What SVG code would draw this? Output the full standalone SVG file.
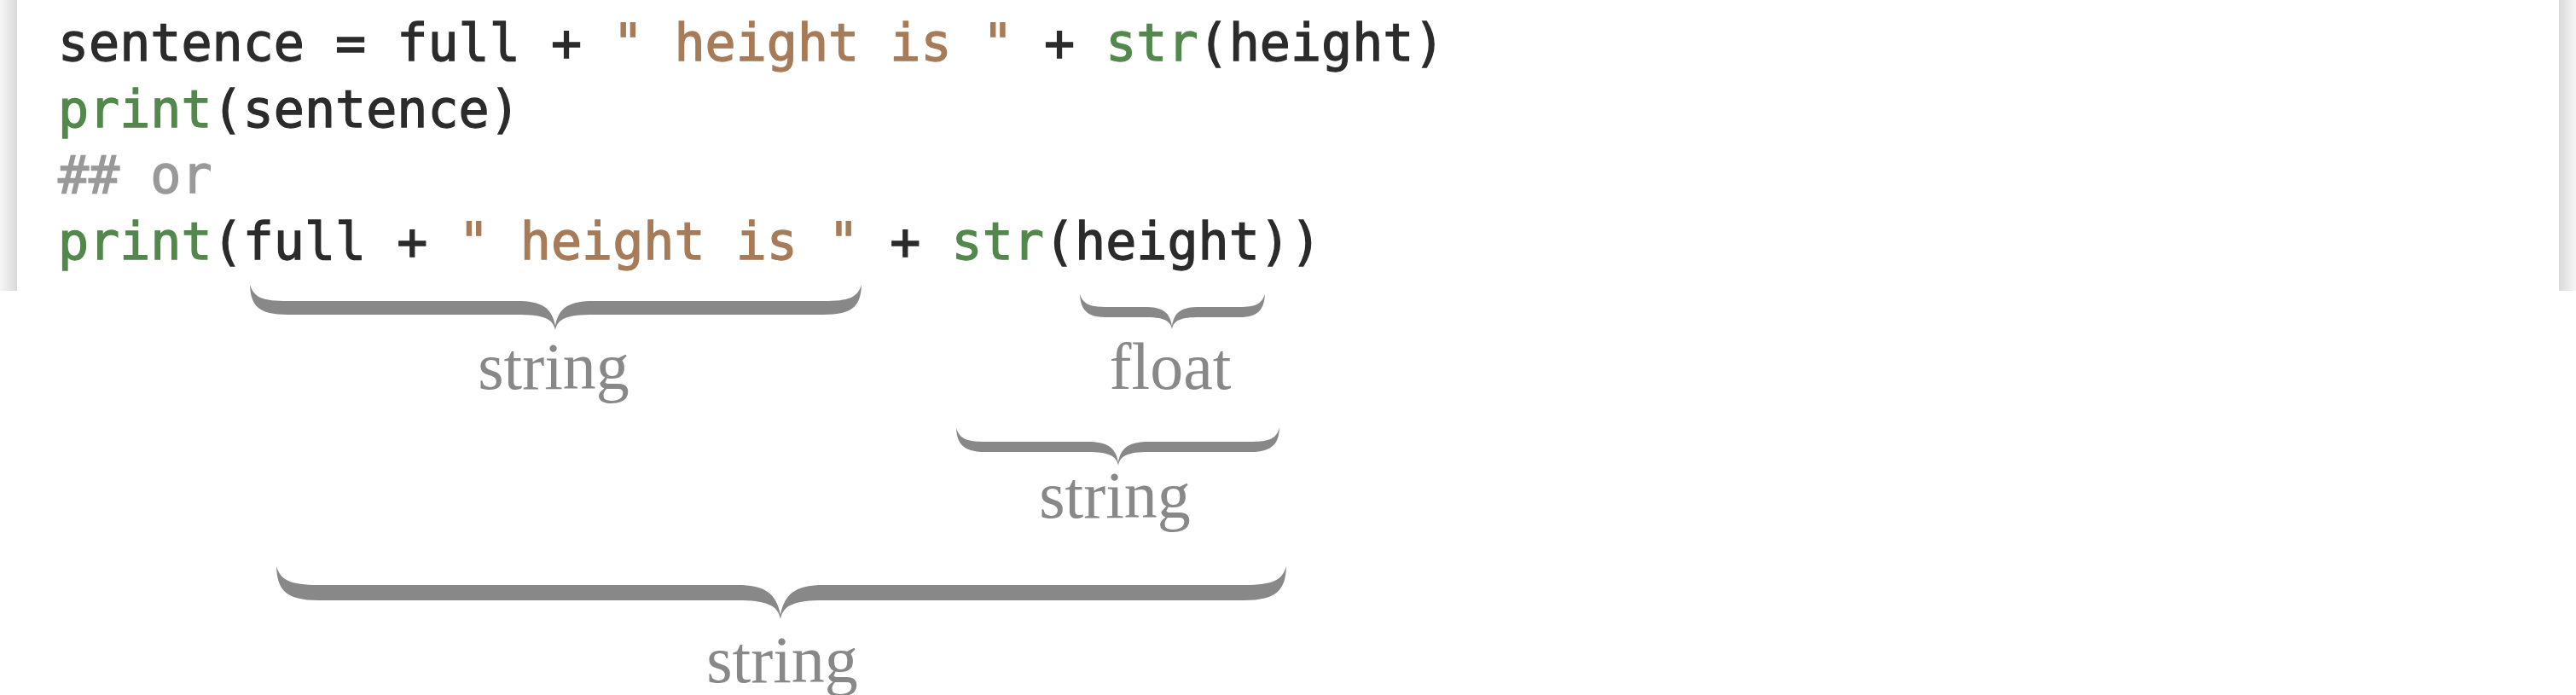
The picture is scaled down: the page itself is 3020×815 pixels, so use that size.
<svg xmlns="http://www.w3.org/2000/svg" width="3020" height="815" viewBox="0 0 3020 815">
<defs>
<linearGradient id="shL" x1="0" y1="0" x2="1" y2="0">
<stop offset="0" stop-color="#f6f6f6"/><stop offset="1" stop-color="#d9d9d9"/>
</linearGradient>
<linearGradient id="shR" x1="0" y1="0" x2="1" y2="0">
<stop offset="0" stop-color="#d9d9d9"/><stop offset="1" stop-color="#f6f6f6"/>
</linearGradient>
</defs>
<style>
.code{font-family:"DejaVu Sans Mono","Liberation Mono",monospace;font-size:60px;stroke-width:1.3px}
.d{fill:#2b2b2b;stroke:#2b2b2b}.s{fill:#a77b58;stroke:#a77b58}.f{fill:#52884c;stroke:#52884c}.c{fill:#999999;stroke:#999999}
.brace{fill:#888888}
.lbl{font-family:"Liberation Serif","DejaVu Serif",serif;font-size:78px;fill:#888888;text-anchor:middle}
</style>
<rect x="0" y="0" width="3020" height="815" fill="#ffffff"/>
<g id="codebox">
<rect x="0" y="0" width="20" height="341" fill="url(#shL)"/>
<rect x="3000" y="0" width="20" height="341" fill="url(#shR)"/>
</g>
<g id="code" class="code" xml:space="preserve">
<text id="line1" x="68" y="71"><tspan class="d">sentence = full + </tspan><tspan class="s">" height is "</tspan><tspan class="d"> + </tspan><tspan class="f">str</tspan><tspan class="d">(height)</tspan></text>
<text id="line2" x="68" y="148.7"><tspan class="f">print</tspan><tspan class="d">(sentence)</tspan></text>
<text id="line3" x="68" y="226.3"><tspan class="c">## or</tspan></text>
<text id="line4" x="68" y="304"><tspan class="f">print</tspan><tspan class="d">(full + </tspan><tspan class="s">" height is "</tspan><tspan class="d"> + </tspan><tspan class="f">str</tspan><tspan class="d">(height))</tspan></text>
</g>
<g id="connectors">
<path id="brace-full" class="brace" d="M 293,334 C 294,358 302,369 338,369 L 606,369 C 636,369 648,373 651,387 C 654,373 666,369 696,369 L 965,369 C 1001,369 1009,358 1010,334 C 1005,349 996,353 965,353 L 696,353 C 668,353 655,360 651,382 C 647,360 634,353 606,353 L 338,353 C 307,353 298,349 293,334 Z"/>
<path id="brace-float" class="brace" d="M 1266,345 C 1267,362 1273,372 1296,372 L 1342,372 C 1363,372 1372,375 1374,386 C 1376,375 1385,372 1406,372 L 1453,372 C 1476,372 1482,362 1483,345 C 1479,356 1473,360 1453,360 L 1406,360 C 1386,360 1377,365 1374,382 C 1371,365 1362,360 1342,360 L 1296,360 C 1276,360 1270,356 1266,345 Z"/>
<path id="brace-str" class="brace" d="M 1121,502 C 1122,520 1129,530 1155,530 L 1275,530 C 1299,530 1309,534 1311,546 C 1313,534 1323,530 1347,530 L 1466,530 C 1492,530 1499,520 1500,502 C 1496,514 1489,518 1466,518 L 1347,518 C 1325,518 1314,524 1311,542 C 1308,524 1297,518 1275,518 L 1155,518 C 1132,518 1125,514 1121,502 Z"/>
<path id="brace-all" class="brace" d="M 324,664 C 325,691 334,704 374,704 L 865,704 C 897,704 912,709 915,726 C 918,709 933,704 965,704 L 1458,704 C 1498,704 1507,691 1508,664 C 1503,680 1494,686 1458,686 L 965,686 C 936,686 920,694 915,721 C 910,694 894,686 865,686 L 374,686 C 339,686 329,680 324,664 Z"/>
</g>
<g id="label-string1"><text class="lbl" x="649" y="456">string</text></g>
<g id="label-float"><text class="lbl" x="1372" y="456">float</text></g>
<g id="label-string2"><text class="lbl" x="1307" y="607">string</text></g>
<g id="label-string3"><text class="lbl" x="917" y="800">string</text></g>
</svg>
